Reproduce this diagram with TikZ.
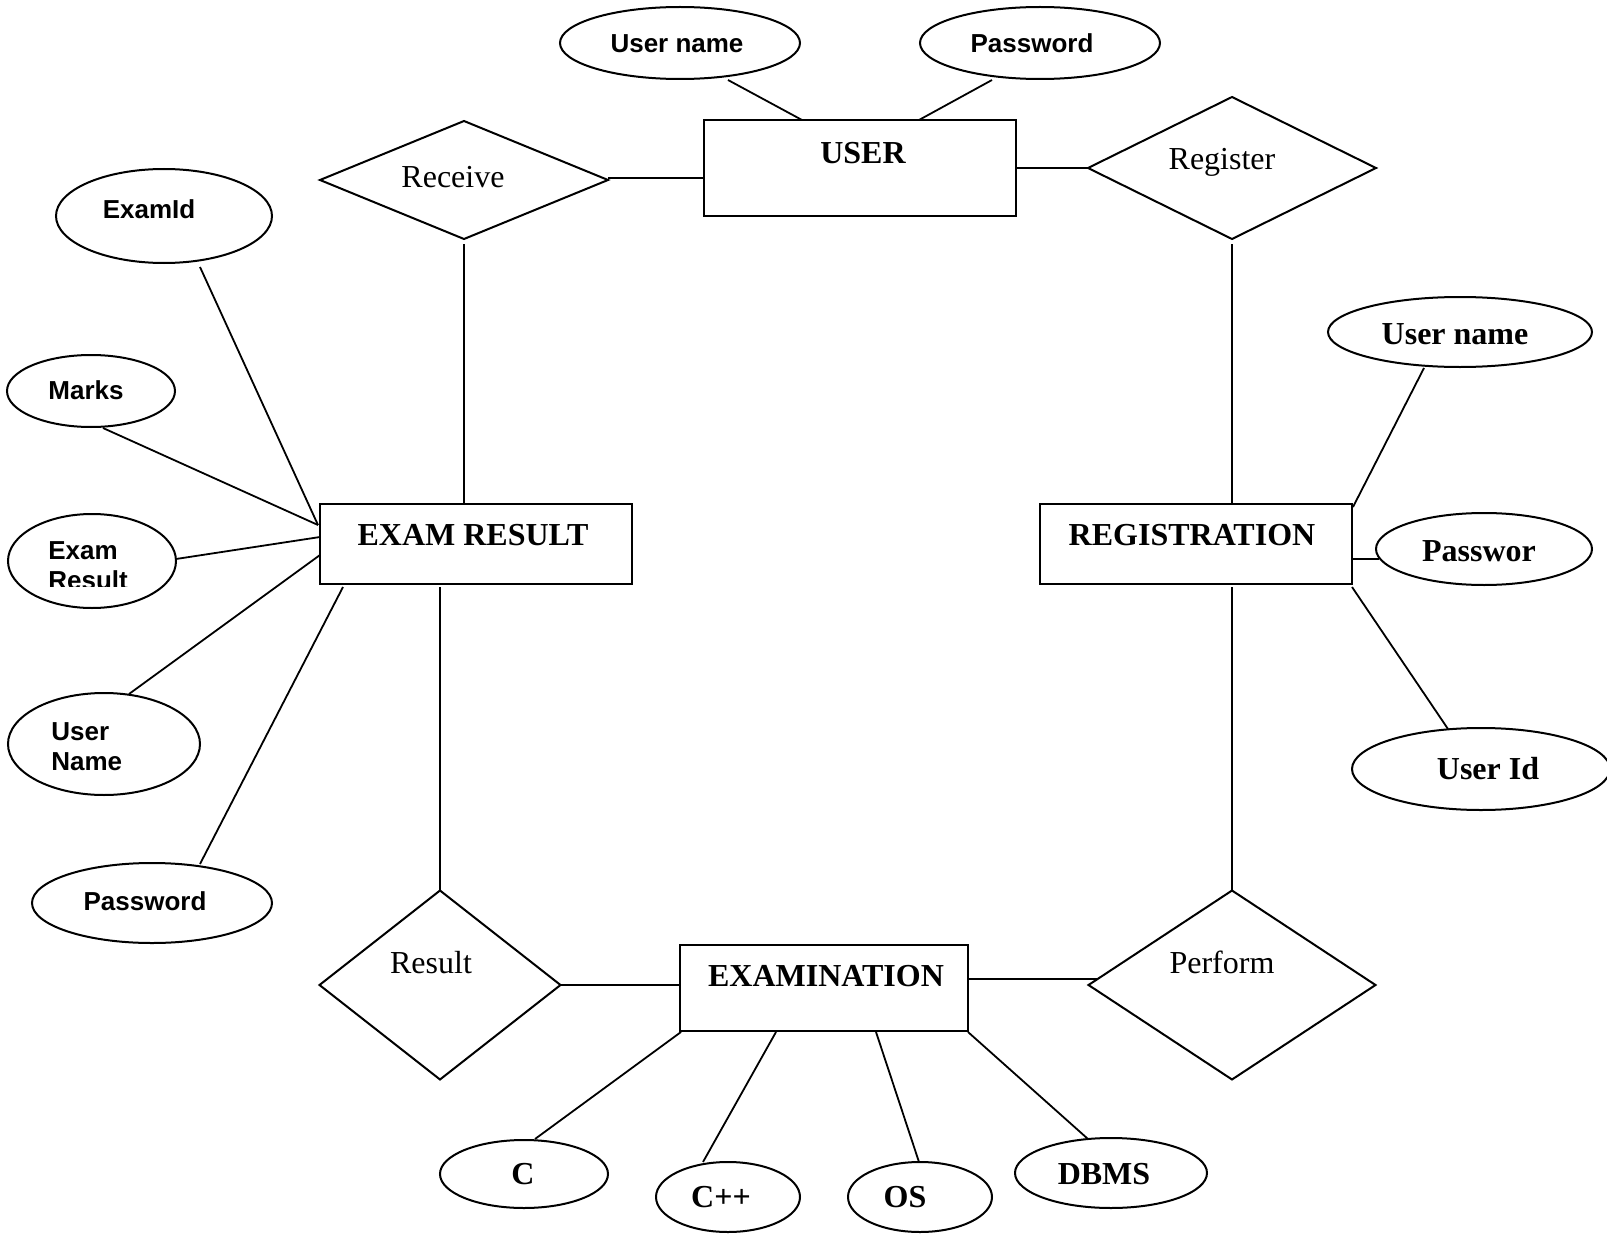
\documentclass[tikz,border=0pt]{standalone}
\usepackage{fontspec}
\setmainfont{Liberation Serif}
\newfontfamily\arialf{Liberation Sans}
\usetikzlibrary{shapes.geometric,calc}
\tikzset{
  ent/.style={draw,rectangle,line width=1.2pt,inner sep=0pt,outer sep=0pt},
  rel/.style={draw,diamond,line width=1pt,inner sep=0pt,outer sep=0pt},
  attr/.style={draw,ellipse,line width=1pt,inner sep=0pt,outer sep=0pt},
  conn/.style={line width=0.9pt},
  lblA/.style={inner sep=0pt,yshift=-1pt,font=\arialf\bfseries\fontsize{13pt}{15pt}\selectfont,text height=0.72em,text depth=0pt},
  lblB/.style={inner sep=0pt,yshift=-2pt,font=\bfseries\fontsize{16pt}{18pt}\selectfont,text height=0.66em,text depth=0pt},
  lblR/.style={inner sep=0pt,yshift=-2pt,font=\fontsize{16pt}{18pt}\selectfont,text height=0.66em,text depth=0pt},
}
\begin{document}
\begin{tikzpicture}[x=0.5pt,y=-0.5pt]
\useasboundingbox (0,0) rectangle (1607,1236);
% entities
\node[ent,minimum width=156pt,minimum height=48pt] (user) at (860,168) {};
\node[ent,minimum width=156pt,minimum height=40pt] (er) at (476,544) {};
\node[ent,minimum width=156pt,minimum height=40pt] (rg) at (1196,544) {};
\node[ent,minimum width=144pt,minimum height=43pt] (ex) at (824,988) {};
% relationships
\node[rel,minimum width=144pt,minimum height=59pt] (rec) at (464,180) {};
\node[rel,minimum width=144pt,minimum height=71pt] (reg) at (1232,168) {};
\node[rel,minimum width=120.5pt,minimum height=94.5pt] (res) at (440,985) {};
\node[rel,minimum width=143.5pt,minimum height=94.5pt] (per) at (1232,985) {};
% attributes
\node[attr,minimum width=120pt,minimum height=36pt] (una) at (680,43) {};
\node[attr,minimum width=120pt,minimum height=36pt] (pwa) at (1040,43) {};
\node[attr,minimum width=108pt,minimum height=47pt] (eid) at (164,216) {};
\node[attr,minimum width=84pt,minimum height=36pt] (mrk) at (91,391) {};
\node[attr,minimum width=84pt,minimum height=47pt] (exr) at (92,561) {};
\node[attr,minimum width=96pt,minimum height=51pt] (unb) at (104,744) {};
\node[attr,minimum width=120pt,minimum height=40pt] (pwb) at (152,903) {};
\node[attr,minimum width=132pt,minimum height=35pt] (unc) at (1460,332) {};
\node[attr,minimum width=108pt,minimum height=36pt] (pwc) at (1484,549) {};
\node[attr,minimum width=129pt,minimum height=41pt] (uid) at (1481,769) {};
\node[attr,minimum width=84pt,minimum height=34pt] (cc) at (524,1174) {};
\node[attr,minimum width=72pt,minimum height=35pt] (cpp) at (728,1197) {};
\node[attr,minimum width=72pt,minimum height=35pt] (os) at (920,1197) {};
\node[attr,minimum width=96pt,minimum height=35pt] (dbms) at (1111,1173) {};
% labels
\node[lblB] (tuser) at (863,153) {USER};
\node[lblB] (ter) at (473,535) {EXAM RESULT};
\node[lblB] (trg) at (1192,535) {REGISTRATION};
\node[lblB] (tex) at (826,976) {EXAMINATION};
\node[lblR] (trec) at (453,177) {Receive};
\node[lblR] (treg) at (1222,159) {Register};
\node[lblR] (tres) at (431,963) {Result};
\node[lblR] (tper) at (1222,963) {Perform};
\node[lblA] (tuna) at (677,43) {User name};
\node[lblA] (tpwa) at (1032,43) {Password};
\node[lblA] (teid) at (149,209) {ExamId};
\node[lblA] (tmrk) at (86,390) {Marks};
\node[lblA,anchor=west] (texr1) at (48,550) {Exam};
\begin{scope}
\clip (0,500) rectangle (200,586);
\node[lblA,anchor=west] (texr2) at (48,580) {Result};
\end{scope}
\node[lblA,anchor=west] (tunb1) at (51,731) {User};
\node[lblA,anchor=west] (tunb2) at (51,761) {Name};
\node[lblA] (tpwb) at (145,901) {Password};
\node[lblB] (tunc) at (1455,334) {User name};
\node[lblB] (tpwc) at (1479,551) {Passwor};
\node[lblB] (tuid) at (1488,769) {User Id};
\node[lblB] (tcc) at (523,1174) {C};
\node[lblB] (tcpp) at (721,1197) {C++};
\node[lblB] (tos) at (905,1197) {OS};
\node[lblB] (tdbms) at (1104,1174) {DBMS};
% connectors
\draw[conn] ($(una.center)+(48,37)$) -- ($(user.north west)+(98,0)$);
\draw[conn] ($(pwa.center)+(-48,37)$) -- ($(user.north west)+(215,0)$);
\draw[conn] ($(rec.east)+(0,-2)$) -- ($(rec.east -| user.west)+(0,-2)$);
\draw[conn] (user.east |- reg.west) -- (reg.west);
\draw[conn] ($(rec.south)+(0,5)$) -- (rec.south |- er.north);
\draw[conn] ($(reg.south)+(0,5)$) -- (reg.south |- rg.north);
\draw[conn] ($(eid.center)+(36,51)$) -- ($(er.north west)+(-2,21)$);
\draw[conn] ($(mrk.center)+(12,37)$) -- ($(er.north west)+(-2,21)$);
\draw[conn] ($(exr.center)+(84,-2)$) -- ($(er.north west)+(0,33)$);
\draw[conn] ($(unb.center)+(25,-50)$) -- ($(er.north west)+(0,51)$);
\draw[conn] ($(pwb.center)+(48,-39)$) -- ($(er.south west)+(23,3)$);
\draw[conn] ($(er.south west)+(120,3)$) -- (res.north);
\draw[conn] (res.east) -- (res.east -| ex.west);
\draw[conn] ($(ex.north east)+(0,34)$) -- ($(per.west)+(9,-6)$);
\draw[conn] ($(rg.south west)+(192,3)$) -- (per.north);
\draw[conn] ($(unc.center)+(-36,36)$) -- ($(rg.north east)+(1,3)$);
\draw[conn] ($(rg.east)+(0,15)$) -- ($(pwc.center)+(-105,10)$);
\draw[conn] ($(rg.south east)+(0,3)$) -- ($(uid.center)+(-33,-40)$);
\draw[conn] ($(ex.south west)+(1,1)$) -- ($(cc.center)+(11,-35)$);
\draw[conn] ($(ex.south west)+(96,1)$) -- ($(cpp.center)+(-25,-35)$);
\draw[conn] ($(ex.south west)+(196,1)$) -- ($(os.center)+(-1,-35)$);
\draw[conn] ($(ex.south east)+(0,1)$) -- ($(dbms.center)+(-23,-34)$);
\end{tikzpicture}
\end{document}
